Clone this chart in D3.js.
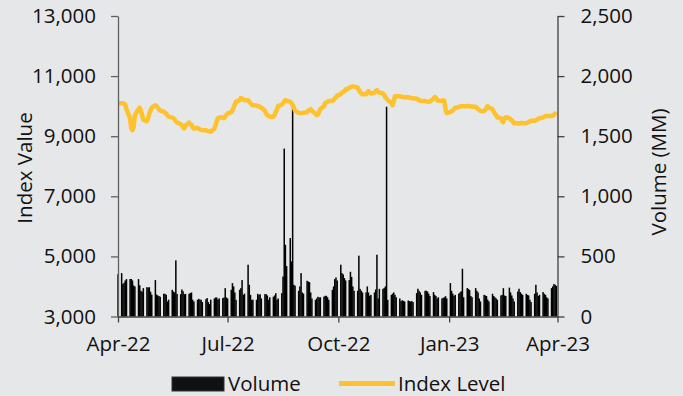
<!DOCTYPE html>
<html>
<head>
<meta charset="utf-8">
<script src="https://cdn.jsdelivr.net/npm/d3@7"></script>
<style>
  body { margin: 0; background: #e6e7e8; }
  svg { display: block; font-family: "Open Sans", sans-serif; }
</style>
</head>
<body>
<svg id="chart" width="683" height="396"></svg>
<script>
// trading days start on Fri 1 Apr 2022, then Mon-Fri weeks
const startDay = "2022-04-01";
const xTicks = ["2022-04-01", "2022-07-01", "2022-10-01", "2023-01-01", "2023-04-01"];
const leftTicks = [3000, 5000, 7000, 9000, 11000, 13000];
const rightTicks = [0, 500, 1000, 1500, 2000, 2500];

// volume (MM), one row per week
const volume = [
  352,
  361, 270, 280, 300, 311,
  312, 312, 300, 258, 250,
  311, 260, 214, 206, 236,
  244, 240, 244, 206, 182,
  303, 183, 175, 170, 164,
  189, 189, 180, 125, 140,
  222, 208, 200, 467, 188,
  185, 225, 210, 185, 188,
  188, 195, 200, 140, 125,
  139, 147, 140, 139, 120,
  144, 153, 120, 103, 140,
  150, 158, 158, 140, 150,
  153, 158, 236, 158, 150,
  222, 278, 250, 200, 139,
  222, 236, 303, 180, 190,
  431, 264, 180, 139, 140,
  139, 189, 180, 185, 150,
  186, 186, 175, 139, 160,
  164, 175, 194, 139, 150,
  194, 333, 1397, 597, 420,
  653, 458, 1740, 264, 256,
  214, 250, 361, 200, 190,
  297, 290, 286, 200, 150,
  139, 150, 164, 158, 160,
  165, 172, 172, 160, 139,
  222, 250, 311, 325, 300,
  431, 361, 350, 320, 300,
  303, 372, 330, 250, 214,
  214, 506, 230, 214, 200,
  200, 250, 200, 172, 180,
  200, 225, 514, 150, 230,
  230, 236, 250, 1745, 139,
  180, 190, 200, 180, 160,
  150, 128, 135, 130, 125,
  133, 128, 125, 128, 120,
  195, 231, 214, 200, 180,
  214, 214, 208, 190, 170,
  203, 180, 170, 150, 160,
  150, 155, 160, 169, 150,
  278, 214, 190, 170, 180,
  190, 200, 210, 397, 160,
  236, 230, 220, 170, 160,
  236, 214, 200, 150, 125,
  180, 175, 170, 140, 125,
  189, 170, 160, 150, 139,
  175, 180, 236, 175, 170,
  240, 200, 175, 150, 125,
  208, 231, 203, 190, 180,
  189, 180, 175, 140, 120,
  189, 264, 200, 170, 180,
  203, 189, 180, 160, 150,
  236, 250, 270, 264, 255
];

// index level, same days
const indexLevel = [
  10100,
  10100, 10100, 10080, 10050, 9900,
  9600, 9270, 9200, 9300, 9700,
  9900, 9950, 9850, 9700, 9550,
  9500, 9600, 9750, 9850, 9950,
  10030, 10000, 9950, 9900, 9850,
  9820, 9780, 9750, 9700, 9650,
  9620, 9600, 9550, 9500, 9450,
  9400, 9370, 9300, 9260, 9350,
  9450, 9400, 9380, 9300, 9250,
  9280, 9250, 9230, 9210, 9200,
  9200, 9180, 9170, 9160, 9150,
  9250, 9350, 9500, 9600, 9620,
  9620, 9600, 9650, 9700, 9750,
  9800, 9850, 9950, 10050, 10150,
  10200, 10270, 10250, 10230, 10200,
  10200, 10150, 10100, 10050, 10030,
  10030, 10000, 9990, 9980, 9950,
  9850, 9750, 9700, 9680, 9650,
  9650, 9700, 9800, 9900, 10000,
  10050, 10100, 10150, 10200, 10180,
  10150, 10100, 10050, 9950, 9850,
  9780, 9770, 9760, 9770, 9780,
  9800, 9850, 9880, 9900, 9850,
  9750, 9700, 9720, 9800, 9900,
  10000, 10100, 10120, 10150, 10170,
  10170, 10200, 10250, 10300, 10350,
  10400, 10450, 10470, 10500, 10550,
  10600, 10630, 10650, 10650, 10650,
  10620, 10550, 10470, 10430, 10400,
  10400, 10450, 10500, 10450, 10420,
  10450, 10500, 10530, 10480, 10450,
  10420, 10380, 10300, 10250, 10200,
  10100, 10030, 10150, 10330, 10330,
  10330, 10320, 10310, 10300, 10300,
  10300, 10280, 10270, 10260, 10260,
  10250, 10230, 10200, 10180, 10170,
  10170, 10160, 10150, 10140, 10150,
  10250, 10300, 10280, 10200, 10180,
  10180, 10200, 10180, 9900, 9770,
  9800, 9830, 9850, 9900, 9950,
  9970, 9990, 10000, 10000, 10000,
  10000, 10010, 10000, 9990, 9980,
  9980, 9950, 9900, 9870, 9840,
  9830, 9870, 9950, 10000, 9950,
  9900, 9820, 9750, 9700, 9630,
  9600, 9500, 9470, 9580, 9630,
  9600, 9550, 9530, 9480, 9430,
  9430, 9420, 9430, 9440, 9430,
  9430, 9450, 9470, 9490, 9510,
  9510, 9530, 9550, 9570, 9600,
  9620, 9650, 9670, 9670, 9670,
  9670, 9680, 9700, 9750, 9800
];

const parse = d3.timeParse("%Y-%m-%d");
const fontSize = "20.5px";

// weekdays from the start date, one per value
const days = d3.timeDay.range(parse(startDay), parse("2023-04-01"))
  .filter(d => d.getDay() !== 0 && d.getDay() !== 6)
  .slice(0, volume.length);

const data = days.map((d, i) => ({ date: d, vol: volume[i], idx: indexLevel[i] }));

const svg = d3.select("#chart");

const x = d3.scaleTime()
  .domain([parse(xTicks[0]), parse(xTicks[xTicks.length - 1])])
  .range([118, 557.5]);
const yL = d3.scaleLinear().domain([3000, 13000]).range([316.5, 16]);
const yR = d3.scaleLinear().domain([0, 2500]).range([316.5, 16]);

// volume bars
svg.append("g")
  .selectAll("rect")
  .data(data)
  .enter()
  .append("rect")
  .attr("x", d => x(d.date) - 0.7)
  .attr("width", 1.5)
  .attr("y", d => yR(d.vol))
  .attr("height", d => yR(0) - yR(d.vol))
  .attr("fill", "#000");

// index line
svg.append("path")
  .datum(data)
  .attr("fill", "none")
  .attr("stroke", "#fdc22d")
  .attr("stroke-width", 4.5)
  .attr("stroke-linejoin", "round")
  .attr("d", d3.line().x(d => x(d.date)).y(d => yL(d.idx)));

// axes
const fmt = d3.format(",");
const left = svg.append("g")
  .attr("transform", "translate(118,0)")
  .call(d3.axisLeft(yL).tickValues(leftTicks).tickFormat(fmt).tickSize(7).tickPadding(15).tickSizeOuter(0));
const right = svg.append("g")
  .attr("transform", "translate(557.5,0)")
  .call(d3.axisRight(yR).tickValues(rightTicks).tickFormat(fmt).tickSize(7).tickPadding(16).tickSizeOuter(0));
const bottom = svg.append("g")
  .attr("transform", "translate(0,316.5)")
  .call(d3.axisBottom(x).tickValues(xTicks.map(parse)).tickFormat(d3.timeFormat("%b-%y")).tickSize(6).tickPadding(14).tickSizeOuter(0));

[left, right, bottom].forEach(g => {
  g.selectAll("path, line").attr("stroke", "#404040").attr("stroke-width", 1.3);
  g.selectAll("text").attr("fill", "#111").style("font-size", fontSize).style("font-family", "Open Sans");
});
left.selectAll("path, line").attr("stroke", "#606060");

// axis titles
svg.append("text")
  .attr("transform", "translate(32,168) rotate(-90)")
  .attr("text-anchor", "middle")
  .style("font-size", fontSize)
  .attr("fill", "#111")
  .text("Index Value");
svg.append("text")
  .attr("transform", "translate(666,172) rotate(-90)")
  .attr("text-anchor", "middle")
  .style("font-size", fontSize)
  .attr("fill", "#111")
  .text("Volume (MM)");

// legend
const legend = svg.append("g");
legend.append("rect")
  .attr("x", 172).attr("y", 377).attr("width", 52).attr("height", 14)
  .attr("fill", "#111").attr("stroke", "#333");
legend.append("text")
  .attr("x", 228).attr("y", 391)
  .style("font-size", fontSize).attr("fill", "#111")
  .text("Volume");
legend.append("line")
  .attr("x1", 339).attr("x2", 395).attr("y1", 383.5).attr("y2", 383.5)
  .attr("stroke", "#fdc22d").attr("stroke-width", 5);
legend.append("text")
  .attr("x", 398).attr("y", 391)
  .style("font-size", fontSize).attr("fill", "#111")
  .text("Index Level");
</script>
</body>
</html>
